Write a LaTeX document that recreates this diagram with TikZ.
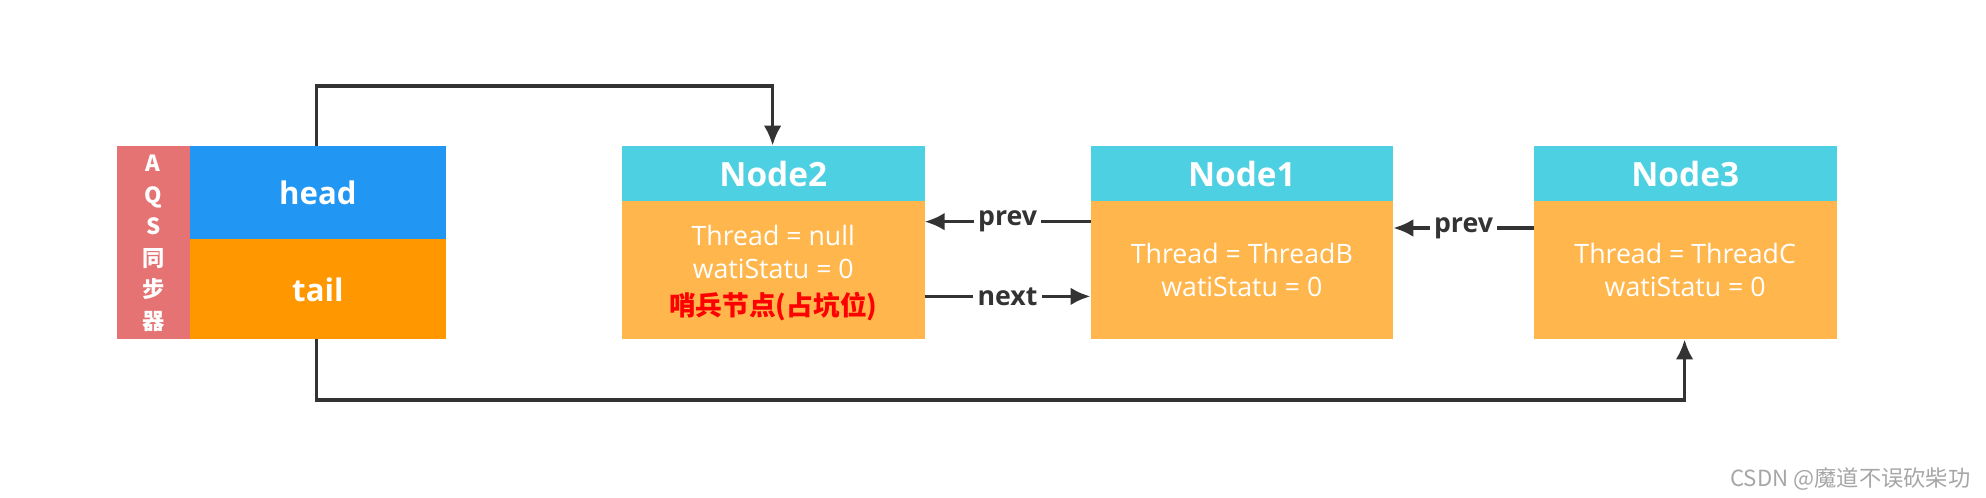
\documentclass[tikz,border=0pt]{standalone}
\usepackage{fontspec}
\setmainfont{Open Sans}
\newfontfamily\cjk{Noto Sans CJK SC}
\usetikzlibrary{calc,arrows,arrows.meta,positioning}
\definecolor{aqsred}{HTML}{E57373}
\definecolor{headblue}{HTML}{2196F3}
\definecolor{tailorange}{HTML}{FF9800}
\definecolor{nodecyan}{HTML}{4DD0E1}
\definecolor{nodebody}{HTML}{FFB74D}
\definecolor{linegray}{HTML}{333333}
\begin{document}
\begin{tikzpicture}[x=0.02cm,y=-0.02cm, every node/.style={text=white,inner sep=0pt},
    link/.style={linegray, line width=1.6pt, -{Latex[length=9pt,width=8pt]}},
    lbl/.style={fill=white, text=linegray, font=\fontsize{12}{14}\selectfont\bfseries, inner xsep=2pt},
    title/.style={font=\fontsize{15}{18}\selectfont\bfseries},
    body/.style={font=\fontsize{12}{15}\selectfont, align=center}]
        \useasboundingbox (0,0) rectangle (1568,393);
        % AQS column
        \fill[aqsred] (92,115) rectangle (150,268);
        \node[font=\fontsize{10}{14.2}\selectfont\cjk\bfseries, align=center] (aqs) at (121,192) {A\\Q\\S\\同\\步\\器};
        \fill[headblue] (150,115) rectangle (352,189);
        \fill[tailorange] (150,189) rectangle (352,268);
        \node[font=\fontsize{14}{17}\selectfont\bfseries] (head) at (251,152) {head};
        \node[font=\fontsize{14}{17}\selectfont\bfseries] (tail) at (251,229) {tail};
        % the three nodes
        \foreach \x/\n in {491/2, 861/1, 1211/3} {
            \fill[nodecyan] (\x,115) rectangle (\x+239,159);
            \fill[nodebody] (\x,159) rectangle (\x+239,268);
            \node[title] at (\x+119.5,137) {Node\n};
        }
        \node[body] (b2) at (610.5,199) {Thread = null\\watiStatu = 0};
        \node[font=\fontsize{12}{15}\selectfont\cjk\bfseries, text=red] (s2) at (610.5,242) {哨兵节点(占坑位)};
        \node[body] (b1) at (980.5,213) {Thread = ThreadB\\watiStatu = 0};
        \node[body] (b3) at (1330.5,213) {Thread = ThreadC\\watiStatu = 0};
        \coordinate (1) at (250,115);
        \coordinate (2) at (610,115);
        \coordinate (3) at (250,268);
        \coordinate (4) at (1330,268);
        \draw[link] (1) |- (610,68) -- (2);
        \draw[link] (3) |- (1330,316) -- (4);
        \coordinate (5) at (861,175);
        \coordinate (6) at (730,175);
        \draw[link] (5) -- node[lbl] {prev} (6);
        \coordinate (7) at (730,234);
        \coordinate (8) at (861,234);
        \draw[link] (7) -- node[lbl] {next} (8);
        \coordinate (9) at (1211,180);
        \coordinate (10) at (1100,180);
        \draw[link] (9) -- node[lbl] {prev} (10);
        \node[text=gray!70, font=\fontsize{10}{12}\selectfont\cjk, anchor=east] (mark) at (1556,378) {CSDN @魔道不误砍柴功};
\end{tikzpicture}
\end{document}
